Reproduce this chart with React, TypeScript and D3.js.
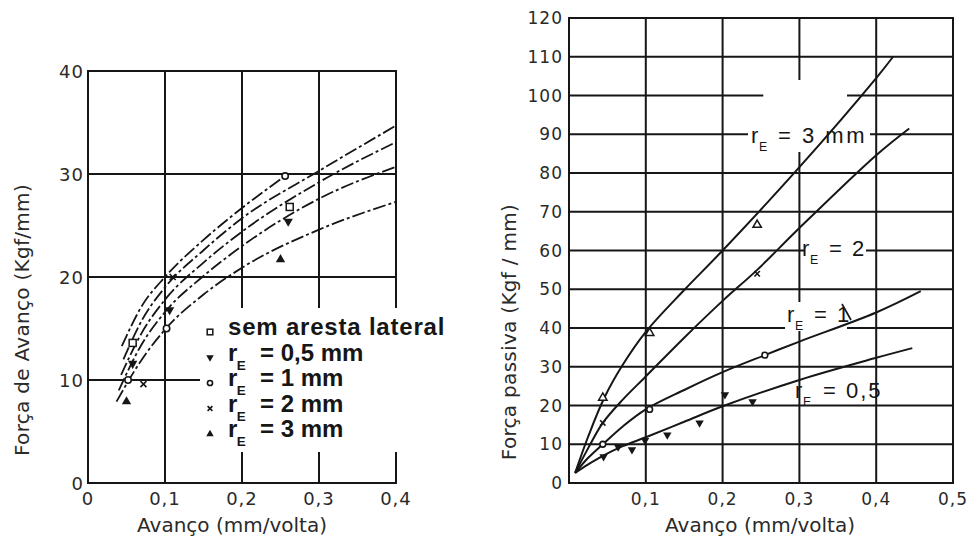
import React from "react";
import * as d3 from "d3";

type Pt = [number, number];

// ---------- Força de avanço (left panel) ----------
const avXTicks = [0, 0.1, 0.2, 0.3, 0.4];
const avXLabels = ["0", "0,1", "0,2", "0,3", "0,4"];
const avYTicks = [0, 10, 20, 30, 40];
const avYLabels = ["0", "10", "20", "30", "40"];
const avGridX = [0.1, 0.2, 0.3];
const avGridY = [10, 20, 30];

// fitted curves (dash-dot)
const avCurveA: Pt[] = [[0.044, 13.3], [0.07, 17.2], [0.1, 20], [0.15, 23.6], [0.2, 26.7], [0.256, 29.8]];
const avCurveB: Pt[] = [[0.046, 12], [0.07, 15.8], [0.1, 19], [0.15, 22.6], [0.2, 25.7], [0.3, 30.3], [0.4, 34.7]];
const avCurveC: Pt[] = [[0.043, 10.5], [0.07, 14.6], [0.1, 17.8], [0.15, 21.4], [0.2, 24.4], [0.3, 29.2], [0.4, 33.1]];
const avCurveD: Pt[] = [[0.04, 9], [0.07, 13.5], [0.1, 16.6], [0.15, 20.1], [0.2, 23], [0.3, 27.6], [0.4, 30.7]];
const avCurveE: Pt[] = [[0.037, 7.9], [0.07, 12], [0.1, 14.9], [0.15, 18.3], [0.2, 20.9], [0.3, 24.6], [0.4, 27.3]];
const avCurves = [avCurveA, avCurveB, avCurveC, avCurveD, avCurveE];

// measured points
const avSemAresta: Pt[] = [[0.058, 13.6], [0.262, 26.8]];
const avR05: Pt[] = [[0.058, 11.6], [0.106, 16.8], [0.26, 25.4]];
const avR1: Pt[] = [[0.052, 10], [0.102, 15], [0.256, 29.8]];
const avR2: Pt[] = [[0.072, 9.6], [0.11, 20]];
const avR3: Pt[] = [[0.05, 7.9], [0.25, 21.7]];

const legendMarkers = ["square", "triDown", "circle", "times", "tri"];
const legendTexts = ["sem aresta lateral", "= 0,5 mm", "= 1 mm", "= 2 mm", "= 3 mm"];

// ---------- Força passiva (right panel) ----------
const paXTicks = [0.1, 0.2, 0.3, 0.4, 0.5];
const paXLabels = ["0,1", "0,2", "0,3", "0,4", "0,5"];
const paYTicks = [0, 10, 20, 30, 40, 50, 60, 70, 80, 90, 100, 110, 120];
const paYLabels = ["0", "10", "20", "30", "40", "50", "60", "70", "80", "90", "100", "110", "120"];
const paGridX = [0.1, 0.2, 0.3, 0.4];
const paGridY = [10, 20, 30, 40, 50, 60, 70, 80, 90, 100, 110];

const paCurveR3: Pt[] = [[0.008, 2.6], [0.025, 12], [0.046, 22], [0.07, 30.5], [0.1, 39], [0.15, 49.8], [0.2, 60], [0.3, 81.5], [0.4, 104.5], [0.422, 110]];
const paCurveR2: Pt[] = [[0.008, 2.6], [0.025, 9], [0.044, 15.5], [0.07, 21.5], [0.1, 27.5], [0.15, 37.5], [0.2, 47], [0.245, 55], [0.3, 65.8], [0.4, 84.6], [0.443, 91.5]];
const paCurveR1: Pt[] = [[0.008, 2.6], [0.025, 6.5], [0.044, 10], [0.07, 14.6], [0.1, 19], [0.15, 24], [0.2, 28.6], [0.255, 33], [0.3, 36.5], [0.4, 44], [0.458, 49.5]];
const paCurveR05: Pt[] = [[0.008, 2.6], [0.025, 4.8], [0.044, 7], [0.07, 9.5], [0.1, 11.8], [0.15, 15.8], [0.2, 19.8], [0.3, 26.6], [0.4, 32.3], [0.447, 34.8]];
const paCurves = [paCurveR3, paCurveR2, paCurveR1, paCurveR05];

const paPtsR3: Pt[] = [[0.044, 22], [0.105, 38.7], [0.245, 66.6]];
const paPtsR2: Pt[] = [[0.044, 15.5], [0.245, 54]];
const paPtsR1: Pt[] = [[0.044, 10], [0.105, 19], [0.255, 33]];
const paPtsR05: Pt[] = [[0.045, 6.8], [0.064, 9.3], [0.082, 8.6], [0.099, 11], [0.128, 12.4], [0.17, 15.5], [0.203, 22.8], [0.239, 21]];

const INK = "#161616";
const TEXT = "#2a2a2a";
const TICK_FONT = "'DejaVu Sans', sans-serif";
const LABEL_FONT = "'Liberation Sans', Arial, sans-serif";

function Marker({ kind, cx, cy, s = 1 }: { kind: string; cx: number; cy: number; s?: number }) {
  const t = `translate(${cx},${cy})`;
  if (kind === "square")
    return <rect x={cx - 3.5 * s} y={cy - 3.5 * s} width={7 * s} height={7 * s} fill="#fff" stroke={INK} strokeWidth={1.5} />;
  if (kind === "circle")
    return <circle cx={cx} cy={cy} r={3.2 * s} fill="#fff" stroke={INK} strokeWidth={1.6} />;
  if (kind === "times") {
    const r = 3 * s;
    return (
      <g stroke={INK} strokeWidth={1.6}>
        <line x1={cx - r} y1={cy - r} x2={cx + r} y2={cy + r} />
        <line x1={cx - r} y1={cy + r} x2={cx + r} y2={cy - r} />
      </g>
    );
  }
  const tri = d3.symbol().type(d3.symbolTriangle).size(38 * s * s)() as string;
  if (kind === "tri") return <path d={tri} transform={t} fill={INK} />;
  if (kind === "triOpen") return <path d={tri} transform={t} fill="#fff" stroke={INK} strokeWidth={1.5} />;
  if (kind === "triDown") return <path d={tri} transform={`${t} rotate(180)`} fill={INK} />;
  return null;
}

// "r" with subscript E followed by the rest of the label
function RLabel({ x, y, rest, restDx, size, weight = "normal", spacing = 0 }: {
  x: number; y: number; rest: string; restDx: number; size: number; weight?: string; spacing?: number;
}) {
  return (
    <g fontFamily={LABEL_FONT} fontWeight={weight} fill={INK}>
      <text x={x} y={y} fontSize={size}>r</text>
      <text x={x + size * 0.36} y={y + size * 0.38} fontSize={size * 0.56}>E</text>
      <text x={x + restDx} y={y} fontSize={size} letterSpacing={spacing}>{rest}</text>
    </g>
  );
}

export default function App() {
  // left panel scales
  const ax = d3.scaleLinear().domain([0, 0.4]).range([88, 396]);
  const ay = d3.scaleLinear().domain([0, 40]).range([483, 71]);
  // right panel scales
  const px = d3.scaleLinear().domain([0, 0.5]).range([569, 953]);
  const py = d3.scaleLinear().domain([0, 120]).range([483, 18]);

  const aLine = d3.line<Pt>().x((d) => ax(d[0])).y((d) => ay(d[1])).curve(d3.curveMonotoneX);
  const pLine = d3.line<Pt>().x((d) => px(d[0])).y((d) => py(d[1])).curve(d3.curveCatmullRom.alpha(0.5));

  const avMarkerSets: [string, Pt[]][] = [
    ["square", avSemAresta], ["triDown", avR05], ["circle", avR1], ["times", avR2], ["tri", avR3],
  ];
  const paMarkerSets: [string, Pt[]][] = [
    ["triOpen", paPtsR3], ["times", paPtsR2], ["circle", paPtsR1], ["triDown", paPtsR05],
  ];

  // right-panel grid breaks (data units): horizontal 100 and vertical 0.3
  const hGap: Record<number, [number, number]> = { 100: [0.253, 0.362] };
  const vGap: Record<number, [number, number]> = { 0.3: [104, 88] };

  return (
    <svg width={973} height={544} style={{ position: "absolute", left: 0, top: 0, background: "#fff" }}>
      {/* ===== left panel ===== */}
      <g stroke={INK} strokeWidth={2} fill="none">
        {avGridX.map((v) => (
          <line key={`gx${v}`} x1={ax(v)} x2={ax(v)} y1={ay(0)} y2={ay(40)} />
        ))}
        {avGridY.map((v) => (
          <line key={`gy${v}`} x1={ax(0)} x2={ax(0.4)} y1={ay(v)} y2={ay(v)} />
        ))}
        <rect x={ax(0)} y={ay(40)} width={ax(0.4) - ax(0)} height={ay(0) - ay(40)} />
      </g>
      {/* clear area behind the legend */}
      <rect x={200} y={308} width={205} height={144} fill="#fff" />

      <g fill="none" stroke={INK} strokeWidth={1.8} strokeDasharray="13 3 3 3">
        {avCurves.map((c, i) => (
          <path key={`ac${i}`} d={aLine(c) as string} />
        ))}
      </g>
      {avMarkerSets.map(([k, pts]) =>
        pts.map((p, i) => <Marker key={`am${k}${i}`} kind={k} cx={ax(p[0])} cy={ay(p[1])} />)
      )}

      {/* left axes labels */}
      <g fontFamily={TICK_FONT} fontSize={18} fill={TEXT} letterSpacing={1}>
        {avYTicks.map((v, i) => (
          <text key={`ayl${v}`} x={84} y={ay(v) + 6.5} textAnchor="end">{avYLabels[i]}</text>
        ))}
        {avXTicks.map((v, i) => (
          <text key={`axl${v}`} x={ax(v)} y={504.5} textAnchor="middle">{avXLabels[i]}</text>
        ))}
      </g>
      <text x={232} y={532} textAnchor="middle" fontFamily={TICK_FONT} fontSize={20} fill={TEXT}>
        Avanço (mm/volta)
      </text>
      <text transform="translate(29,320) rotate(-90)" textAnchor="middle" fontFamily={TICK_FONT} fontSize={20} letterSpacing={0.3} fill={TEXT}>
        Força de Avanço (Kgf/mm)
      </text>

      {/* legend */}
      {legendTexts.map((t, i) => {
        const base = 335 + i * 25.5;
        return (
          <g key={`lg${i}`}>
            <Marker kind={legendMarkers[i]} cx={210} cy={base - 3} s={0.8} />
            {i === 0 ? (
              <text x={228} y={base} fontFamily={LABEL_FONT} fontWeight="bold" fontSize={24} letterSpacing={0.8} fill={INK}>
                {t}
              </text>
            ) : (
              <RLabel x={228} y={base} rest={t} restDx={32} size={24} weight="bold" />
            )}
          </g>
        );
      })}

      {/* ===== right panel ===== */}
      <g stroke={INK} strokeWidth={2} fill="none">
        {paGridX.map((v) => {
          const g = vGap[v];
          if (!g) return <line key={`pgx${v}`} x1={px(v)} x2={px(v)} y1={py(0)} y2={py(120)} />;
          return (
            <g key={`pgx${v}`}>
              <line x1={px(v)} x2={px(v)} y1={py(0)} y2={py(g[1])} />
              <line x1={px(v)} x2={px(v)} y1={py(g[0])} y2={py(120)} />
            </g>
          );
        })}
        {paGridY.map((v) => {
          const g = hGap[v];
          if (!g) return <line key={`pgy${v}`} x1={px(0)} x2={px(0.5)} y1={py(v)} y2={py(v)} />;
          return (
            <g key={`pgy${v}`}>
              <line x1={px(0)} x2={px(g[0])} y1={py(v)} y2={py(v)} />
              <line x1={px(g[1])} x2={px(0.5)} y1={py(v)} y2={py(v)} />
            </g>
          );
        })}
        <rect x={px(0)} y={py(120)} width={px(0.5) - px(0)} height={py(0) - py(120)} />
      </g>

      {/* label backgrounds */}
      <rect x={748} y={124} width={122} height={28} fill="#fff" />
      <rect x={804} y={238} width={62} height={27} fill="#fff" />
      <rect x={785} y={302} width={62} height={29} fill="#fff" />

      <g fill="none" stroke={INK} strokeWidth={2}>
        {paCurves.map((c, i) => (
          <path key={`pc${i}`} d={pLine(c) as string} />
        ))}
        <line x1={842} y1={304} x2={851} y2={320} strokeWidth={1.6} />
      </g>
      {paMarkerSets.map(([k, pts]) =>
        pts.map((p, i) => <Marker key={`pm${k}${i}`} kind={k} cx={px(p[0])} cy={py(p[1])} s={0.9} />)
      )}

      <RLabel x={751} y={143} rest="= 3 mm" restDx={27} size={22} spacing={2.5} />
      <RLabel x={802} y={256} rest="= 2" restDx={27} size={22} spacing={2} />
      <RLabel x={787} y={322} rest="= 1" restDx={27} size={22} spacing={2} />
      <RLabel x={795} y={398} rest="= 0,5" restDx={28} size={22} spacing={2} />

      {/* right axes labels */}
      <g fontFamily={TICK_FONT} fontSize={17} fill={TEXT} letterSpacing={1}>
        {paYTicks.map((v, i) => (
          <text key={`pyl${v}`} x={563} y={py(v) + 6} textAnchor="end">{paYLabels[i]}</text>
        ))}
        {paXTicks.map((v, i) => (
          <text key={`pxl${v}`} x={px(v)} y={505} textAnchor="middle">{paXLabels[i]}</text>
        ))}
      </g>
      <text x={760} y={532} textAnchor="middle" fontFamily={TICK_FONT} fontSize={20} fill={TEXT}>
        Avanço (mm/volta)
      </text>
      <text transform="translate(516,332) rotate(-90)" textAnchor="middle" fontFamily={TICK_FONT} fontSize={20} letterSpacing={0.3} fill={TEXT}>
        Força passiva (Kgf / mm)
      </text>
    </svg>
  );
}
